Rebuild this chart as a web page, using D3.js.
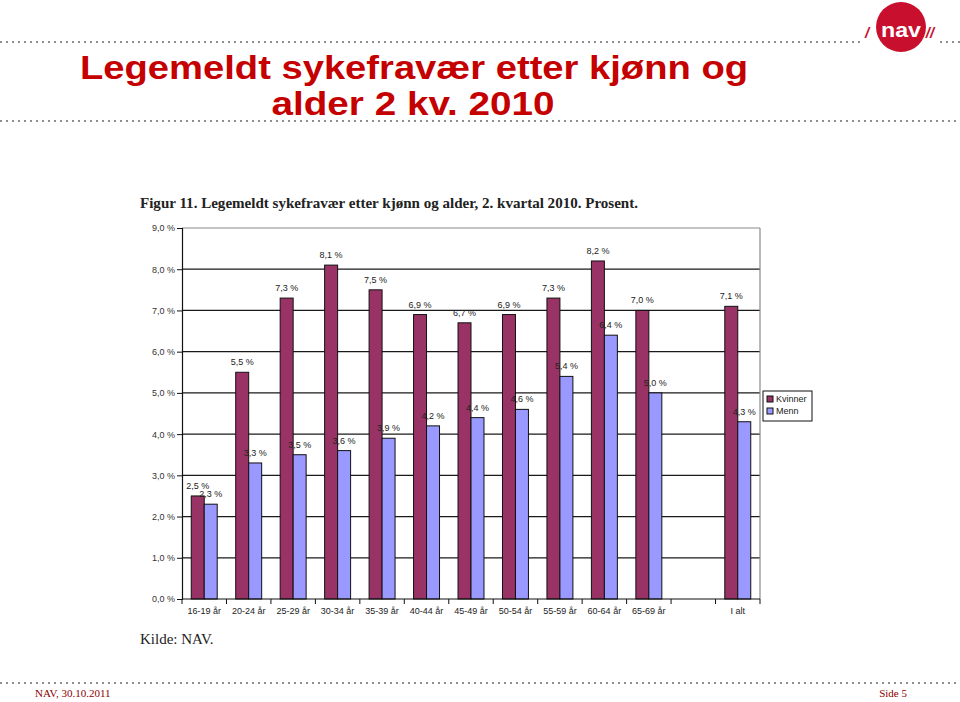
<!DOCTYPE html>
<html>
<head>
<meta charset="utf-8">
<script src="https://cdn.jsdelivr.net/npm/d3@7"></script>
<style>
  body { margin: 0; background: #fff; }
  svg { display: block; }
</style>
</head>
<body>
<div id="chart"></div>
<script>
// data
var categories = ["16-19 år", "20-24 år", "25-29 år", "30-34 år", "35-39 år", "40-44 år",
  "45-49 år", "50-54 år", "55-59 år", "60-64 år", "65-69 år", "", "I alt"];
var kvinner = [2.5, 5.5, 7.3, 8.1, 7.5, 6.9, 6.7, 6.9, 7.3, 8.2, 7.0, null, 7.1];
var menn = [2.3, 3.3, 3.5, 3.6, 3.9, 4.2, 4.4, 4.6, 5.4, 6.4, 5.0, null, 4.3];
var seriesNames = ["Kvinner", "Menn"];
var seriesColors = ["#993366", "#9999ff"];
var yTicks = [0, 1, 2, 3, 4, 5, 6, 7, 8, 9];

var width = 960, height = 702;
var plot = {left: 182, right: 760, top: 228, bottom: 599};

var svg = d3.select("#chart").append("svg")
  .attr("width", width)
  .attr("height", height);

var red = "#c40000";

// dotted separator lines
function dotted(y, x1, x2) {
  svg.append("line")
    .attr("x1", x1).attr("x2", x2).attr("y1", y).attr("y2", y)
    .attr("stroke", "#8f8f8f")
    .attr("stroke-width", 2)
    .attr("stroke-dasharray", "2,4");
}
dotted(42, 0, 864);
dotted(42, 940, 960);
dotted(121, 0, 960);
dotted(683, 0, 960);

// slide title
svg.append("text")
  .attr("x", 414).attr("y", 79)
  .attr("text-anchor", "middle")
  .attr("font-family", "Liberation Sans, Arial, sans-serif")
  .attr("font-weight", "bold")
  .attr("font-size", 34)
  .attr("fill", red)
  .attr("textLength", 668)
  .attr("lengthAdjust", "spacingAndGlyphs")
  .text("Legemeldt sykefravær etter kjønn og");
svg.append("text")
  .attr("x", 413).attr("y", 115)
  .attr("text-anchor", "middle")
  .attr("font-family", "Liberation Sans, Arial, sans-serif")
  .attr("font-weight", "bold")
  .attr("font-size", 34)
  .attr("fill", red)
  .attr("textLength", 283)
  .attr("lengthAdjust", "spacingAndGlyphs")
  .text("alder 2 kv. 2010");

// nav logo
var logo = svg.append("g").attr("transform", "translate(901,27)");
logo.append("circle").attr("r", 25).attr("fill", "#c8102e");
logo.append("text")
  .attr("y", 10)
  .attr("text-anchor", "middle")
  .attr("font-family", "Liberation Sans, Arial, sans-serif")
  .attr("font-weight", "bold")
  .attr("font-size", 21)
  .attr("fill", "#fff")
  .attr("textLength", 40)
  .attr("lengthAdjust", "spacingAndGlyphs")
  .text("nav");
logo.append("text")
  .attr("x", -34).attr("y", 11)
  .attr("text-anchor", "middle")
  .attr("font-family", "Liberation Sans, Arial, sans-serif")
  .attr("font-weight", "bold").attr("font-style", "italic")
  .attr("font-size", 15).attr("fill", "#c8102e")
  .text("/");
logo.append("text")
  .attr("x", 29).attr("y", 11)
  .attr("text-anchor", "middle")
  .attr("font-family", "Liberation Sans, Arial, sans-serif")
  .attr("font-weight", "bold").attr("font-style", "italic")
  .attr("font-size", 15).attr("fill", "#c8102e")
  .text("//");

// figure caption
svg.append("text")
  .attr("x", 140).attr("y", 208)
  .attr("font-family", "Liberation Serif, Times New Roman, serif")
  .attr("font-weight", "bold")
  .attr("font-size", 14)
  .attr("fill", "#222")
  .attr("textLength", 498)
  .attr("lengthAdjust", "spacingAndGlyphs")
  .text("Figur 11. Legemeldt sykefravær etter kjønn og alder, 2. kvartal 2010. Prosent.");

// scales
var x = d3.scaleBand()
  .domain(d3.range(categories.length))
  .range([plot.left, plot.right])
  .paddingInner(0.416)
  .paddingOuter(0.208);
var xSub = d3.scaleBand()
  .domain(seriesNames)
  .range([0, x.bandwidth()]);
var y = d3.scaleLinear().domain([0, 9]).range([plot.bottom, plot.top]);

// gridlines
svg.append("g")
  .selectAll("line")
  .data(yTicks.filter(function(d) { return d > 0; }))
  .enter().append("line")
    .attr("x1", plot.left).attr("x2", plot.right)
    .attr("y1", function(d) { return y(d); })
    .attr("y2", function(d) { return y(d); })
    .attr("stroke", function(d) { return d == 9 ? "#8a8a8a" : "#1a1a1a"; })
    .attr("stroke-width", 1.2);

// right border
svg.append("line")
  .attr("x1", plot.right).attr("x2", plot.right)
  .attr("y1", plot.top).attr("y2", plot.bottom)
  .attr("stroke", "#8a8a8a").attr("stroke-width", 1.2);

// bars
var groups = categories.map(function(c, i) {
  return {i: i, values: [kvinner[i], menn[i]]};
});
var barG = svg.append("g");
groups.forEach(function(g) {
  g.values.forEach(function(v, s) {
    if (v == null) return;
    var bx = x(g.i) + xSub(seriesNames[s]);
    barG.append("rect")
      .attr("x", bx)
      .attr("y", y(v))
      .attr("width", xSub.bandwidth())
      .attr("height", y(0) - y(v))
      .attr("fill", seriesColors[s])
      .attr("stroke", "#111")
      .attr("stroke-width", 1);
    barG.append("text")
      .attr("x", bx + xSub.bandwidth() / 2)
      .attr("y", y(v) - 7)
      .attr("text-anchor", "middle")
      .attr("font-family", "Liberation Sans, Arial, sans-serif")
      .attr("font-size", 9)
      .attr("fill", "#222")
      .text(d3.format(".1f")(v).replace(".", ",") + " %");
  });
});

// y axis
var yAxis = d3.axisLeft(y)
  .tickValues(yTicks)
  .tickSize(5)
  .tickFormat(function(d) { return d3.format(".1f")(d).replace(".", ",") + " %"; });
var yg = svg.append("g")
  .attr("transform", "translate(" + plot.left + ",0)")
  .call(yAxis);
yg.select(".domain").attr("stroke", "#111").attr("stroke-width", 1.2);
yg.selectAll(".tick line").attr("stroke", "#111");
yg.selectAll(".tick text")
  .attr("font-family", "Liberation Sans, Arial, sans-serif")
  .attr("font-size", 9)
  .attr("fill", "#333")
  .attr("x", -7);

// x axis: tick marks between categories
var xg = svg.append("g");
xg.append("line")
  .attr("x1", plot.left).attr("x2", plot.right)
  .attr("y1", plot.bottom).attr("y2", plot.bottom)
  .attr("stroke", "#111").attr("stroke-width", 1.2);
xg.selectAll(".xt")
  .data(d3.range(categories.length + 1))
  .enter().append("line")
    .attr("class", "xt")
    .attr("x1", function(i) { return plot.left + i * x.step(); })
    .attr("x2", function(i) { return plot.left + i * x.step(); })
    .attr("y1", plot.bottom).attr("y2", plot.bottom + 5)
    .attr("stroke", "#111");
xg.selectAll(".xl")
  .data(categories)
  .enter().append("text")
    .attr("class", "xl")
    .attr("x", function(d, i) { return x(i) + x.bandwidth() / 2; })
    .attr("y", plot.bottom + 15)
    .attr("text-anchor", "middle")
    .attr("font-family", "Liberation Sans, Arial, sans-serif")
    .attr("font-size", 9)
    .attr("fill", "#222")
    .text(function(d) { return d; });

// legend
var leg = svg.append("g").attr("transform", "translate(763,391)");
leg.append("rect")
  .attr("width", 49).attr("height", 30)
  .attr("fill", "#fff").attr("stroke", "#111");
seriesNames.forEach(function(n, i) {
  leg.append("rect")
    .attr("x", 4).attr("y", 5 + i * 12)
    .attr("width", 6).attr("height", 6)
    .attr("fill", seriesColors[i]).attr("stroke", "#111");
  leg.append("text")
    .attr("x", 13).attr("y", 11 + i * 12)
    .attr("font-family", "Liberation Sans, Arial, sans-serif")
    .attr("font-size", 9)
    .attr("fill", "#222")
    .text(n);
});

// source
svg.append("text")
  .attr("x", 140).attr("y", 644)
  .attr("font-family", "Liberation Serif, Times New Roman, serif")
  .attr("font-size", 15)
  .attr("fill", "#222")
  .text("Kilde: NAV.");

// footer
svg.append("text")
  .attr("x", 35).attr("y", 697)
  .attr("font-family", "Liberation Serif, Times New Roman, serif")
  .attr("font-size", 11)
  .attr("fill", "#8b0000")
  .text("NAV, 30.10.2011");
svg.append("text")
  .attr("x", 907).attr("y", 697)
  .attr("text-anchor", "end")
  .attr("font-family", "Liberation Serif, Times New Roman, serif")
  .attr("font-size", 11)
  .attr("fill", "#8b0000")
  .text("Side 5");
</script>
</body>
</html>
